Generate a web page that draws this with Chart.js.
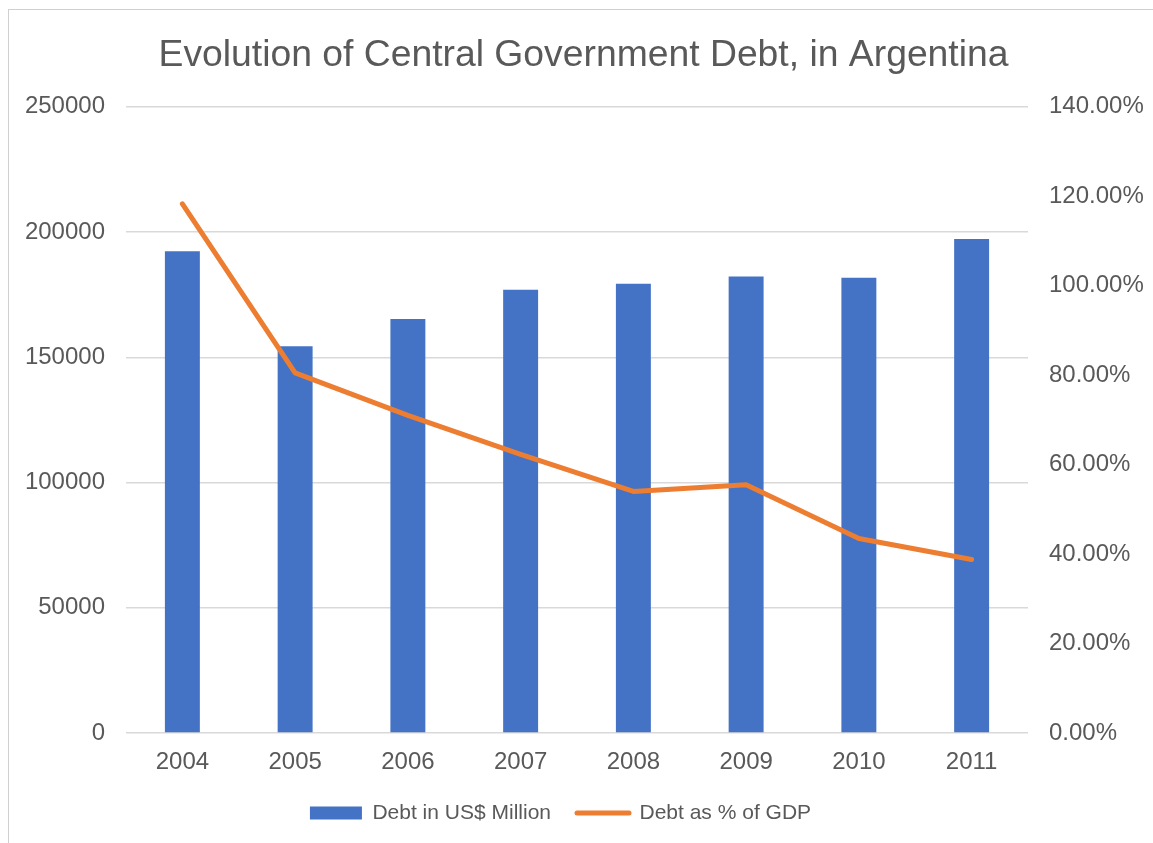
<!DOCTYPE html>
<html>
<head>
<meta charset="utf-8">
<script src="https://cdn.jsdelivr.net/npm/chart.js@4"></script>
<style>
  body { margin: 0; background: #fff; }
  .frame { position: absolute; left: 8px; top: 9px; width: 1200px; height: 900px;
           border-left: 1px solid #d0d0d0; border-top: 1px solid #d0d0d0; }
  .wrap { position: absolute; left: 0; top: 0; width: 1153px; height: 843px; }
</style>
</head>
<body>
<div class="frame"></div>
<div class="wrap"><canvas id="myChart" width="1153" height="843"></canvas></div>
<script>
const years = ['2004', '2005', '2006', '2007', '2008', '2009', '2010', '2011'];
const debtMillions = [192300, 154400, 165300, 176900, 179300, 182200, 181700, 197200];
const debtPctGdp = [118.3, 80.5, 71.0, 62.3, 54.0, 55.5, 43.5, 38.8];

const blue = '#4472C4';
const orange = '#ED7D31';
const textGrey = '#595959';
const fontFamily = '"Liberation Sans", Arial, sans-serif';

let myChart;

// Excel puts the title a bit right of centre and the legend a bit left of it
const boxShift = {
    id: 'boxShift',
    afterLayout(chart) {
        chart.legend.left -= 16;
        chart.legend.right -= 16;
        chart.titleBlock.left += 7;
        chart.titleBlock.right += 7;
    }
};

window.addEventListener('load', () => {
    const ctx = document.getElementById('myChart').getContext('2d');
    myChart = new Chart(ctx, {
        type: 'bar',
        data: {
            labels: years,
            datasets: [{
                type: 'bar',
                label: 'Debt in US$ Million',
                data: debtMillions,
                backgroundColor: blue,
                borderWidth: 0,
                yAxisID: 'y',
                categoryPercentage: 1,
                barPercentage: 0.31,
                order: 2
            }, {
                type: 'line',
                label: 'Debt as % of GDP',
                data: debtPctGdp,
                borderColor: orange,
                backgroundColor: orange,
                borderWidth: 5,
                borderCapStyle: 'round',
                borderJoinStyle: 'round',
                pointRadius: 0,
                tension: 0,
                yAxisID: 'y1',
                order: 1
            }]
        },
        options: {
            responsive: false,
            animation: false,
            layout: { padding: { left: 0, right: 0, top: 0, bottom: 9.5 } },
            scales: {
                x: {
                    grid: { display: false, drawTicks: false },
                    border: { display: false },
                    ticks: { color: textGrey, font: { family: fontFamily, size: 24 }, padding: 15 },
                    afterFit: s => { s.height = 43.5; }
                },
                y: {
                    position: 'left',
                    min: 0,
                    max: 250000,
                    grid: { color: '#d9d9d9', lineWidth: 1.5, drawTicks: false },
                    border: { display: false },
                    ticks: {
                        stepSize: 50000,
                        padding: 21,
                        color: textGrey,
                        font: { family: fontFamily, size: 24 },
                        callback: v => String(v)
                    },
                    afterFit: s => { s.width = 126; }
                },
                y1: {
                    position: 'right',
                    min: 0,
                    max: 140,
                    grid: { drawOnChartArea: false, drawTicks: false },
                    border: { display: false },
                    ticks: {
                        stepSize: 20,
                        padding: 21,
                        color: textGrey,
                        font: { family: fontFamily, size: 24 },
                        callback: v => v.toFixed(2) + '%'
                    },
                    afterFit: s => { s.width = 125; }
                }
            },
            plugins: {
                title: {
                    display: true,
                    text: 'Evolution of Central Government Debt, in Argentina',
                    color: textGrey,
                    font: { family: fontFamily, size: 37.3, weight: 'normal', lineHeight: 1.2 },
                    padding: { top: 33, bottom: 29 }
                },
                legend: {
                    position: 'bottom',
                    labels: {
                        color: textGrey,
                        font: { family: fontFamily, size: 21 },
                        usePointStyle: true,
                        pointStyleWidth: 52,
                        boxHeight: 13,
                        padding: 26,
                        generateLabels: () => [
                            { text: 'Debt in US$ Million', fillStyle: blue, strokeStyle: blue, lineWidth: 0,
                              pointStyle: 'rect', datasetIndex: 0, hidden: false, fontColor: textGrey },
                            { text: 'Debt as % of GDP', fillStyle: orange, strokeStyle: orange, lineWidth: 5,
                              lineCap: 'round', pointStyle: 'line', datasetIndex: 1, hidden: false, fontColor: textGrey }
                        ]
                    }
                },
                tooltip: { enabled: false }
            }
        },
        plugins: [boxShift]
    });
});
</script>
</body>
</html>
